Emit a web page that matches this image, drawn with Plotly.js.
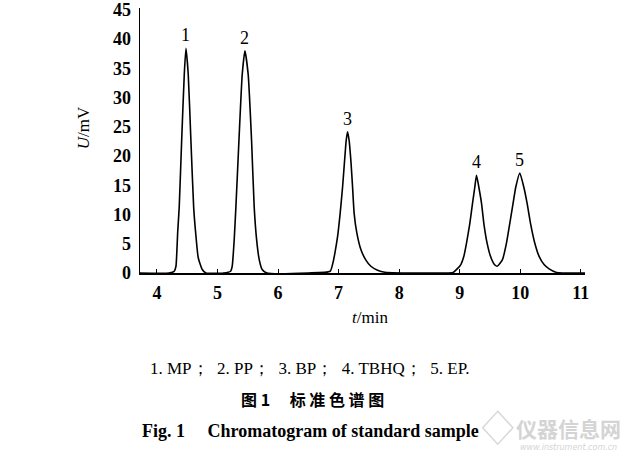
<!DOCTYPE html>
<html>
<head>
<meta charset="utf-8">
<script src="https://cdn.plot.ly/plotly-3.0.1.min.js"></script>
<style>html,body{margin:0;padding:0;background:#fff;}#chart{width:637px;height:471px;}</style>
</head>
<body>
<div id="chart"></div>
<script>
// retention time (min)
const timeMin = [3.72, 4.20,
  4.286, 4.314, 4.328, 4.342, 4.368, 4.408, 4.451, 4.479, 4.517, 4.561, 4.606, 4.639, 4.682, 4.748, 4.81,
  5.10,
  5.217, 5.243, 5.260, 5.276, 5.304, 5.354, 5.408, 5.453, 5.507, 5.563, 5.606, 5.646, 5.689, 5.738, 5.816,
  6.50,
  6.861, 6.906, 6.939, 6.983, 7.026, 7.066, 7.099, 7.125, 7.148, 7.175, 7.203, 7.231, 7.257, 7.302, 7.368,
  7.446, 7.533, 7.644, 7.764,
  8.50,
  8.892, 8.958, 9.019, 9.069, 9.113, 9.168, 9.212, 9.250, 9.278, 9.316, 9.361, 9.399, 9.453, 9.509, 9.564,
  9.618, 9.707, 9.773, 9.828, 9.882, 9.927, 9.993, 10.059, 10.114, 10.170, 10.241, 10.312, 10.394, 10.477,
  10.599, 11.07];
// detector signal (mV)
const signalMV = [0, 0,
  0.3, 1.15, 3.5, 6.9, 11.3, 22.6, 33.9, 38.4, 33.9, 22.6, 11.3, 6.9, 2.6, 0.6, 0,
  0,
  0.3, 1.15, 3.2, 5.7, 11.3, 22.6, 33.9, 38.0, 33.9, 22.6, 11.3, 5.7, 2.3, 0.6, 0,
  0,
  0.3, 1.7, 3.4, 6.2, 10.2, 14.7, 19.2, 22.6, 24.15, 22.6, 19.2, 14.7, 10.2, 6.8, 4.0,
  2.3, 1.15, 0.47, 0.14,
  0,
  0.1, 0.7, 1.44, 2.85, 5.1, 8.5, 11.9, 14.7, 16.7, 14.7, 11.9, 8.5, 5.1, 2.85, 1.6,
  1.15, 2.3, 5.1, 8.5, 11.9, 14.7, 17.1, 14.7, 11.9, 8.5, 5.1, 2.85, 1.44, 0.7,
  0.1, 0];

const peakLabels = ["1", "2", "3", "4", "5"];
const peakTimes = [4.479, 5.453, 7.148, 9.278, 9.993];
const peakHeights = [38.4, 38.0, 24.15, 16.7, 17.1];

const xTicks = [4, 5, 6, 7, 8, 9, 10, 11];
const yTicks = [0, 5, 10, 15, 20, 25, 30, 35, 40, 45];

const xTitle = "<i>t</i>/min";
const yTitle = "<i>U</i>/mV";
const legendLine = "1. MP；\u20022. PP；\u20023. BP；\u20024. TBHQ；\u20025. EP.";
const cnCaption = "图 1　 标 准 色 谱 图";
const enCaption = "Fig. 1　 Chromatogram of standard sample";
const watermark = "仪器信息网";
const watermarkUrl = "www.instrument.com.cn";

const serif = "Liberation Serif, Times New Roman, serif";
const cjk = "Noto Sans CJK SC, sans-serif";

function note(x, y, text, font, extra) {
  return Object.assign({xref: "paper", yref: "paper", x: x, y: y, text: text, showarrow: false,
    xanchor: "center", yanchor: "middle", font: font}, extra || {});
}

const annotations = peakLabels.map((lab, i) => ({
  x: peakTimes[i], y: peakHeights[i], xref: "x", yref: "y",
  text: lab, showarrow: false, yshift: 13, xanchor: "center", yanchor: "middle",
  font: {family: serif, size: 18, color: "#000"}
}));

annotations.push(
  note(0.517, -0.168, xTitle, {family: serif, size: 17, color: "#000"}),
  note(-0.128, 0.546, yTitle, {family: serif, size: 17, color: "#000"}, {textangle: -90}),
  note(0.382, -0.360, legendLine, {family: serif, size: 17, color: "#000"}),
  note(0.387, -0.477, "<b>" + cnCaption + "</b>", {family: cjk, size: 16, color: "#000"}),
  note(0.384, -0.597, "<b>" + enCaption + "</b>", {family: serif, size: 18, color: "#000"}),
  note(0.962, -0.584, "<b>" + watermark + "</b>", {family: cjk, size: 21, color: "#d4d4d4"}),
  note(0.962, -0.659, "<i>" + watermarkUrl + "</i>", {family: "DejaVu Sans, sans-serif", size: 8, color: "#d4d4d4"})
);

const trace = {
  x: timeMin, y: signalMV, type: "scatter", mode: "lines",
  line: {color: "#000", width: 1.6, shape: "spline", smoothing: 0.5},
  cliponaxis: false, hoverinfo: "skip"
};

const layout = {
  width: 637, height: 471,
  margin: {l: 140, r: 52, t: 8, b: 197.5},
  paper_bgcolor: "#fff", plot_bgcolor: "#fff",
  showlegend: false,
  xaxis: {
    range: [3.72, 11.07], tickvals: xTicks, ticktext: xTicks.map(String),
    showgrid: false, zeroline: false, showline: true, linecolor: "#000", linewidth: 1.5,
    ticks: "inside", ticklen: 4, tickcolor: "#000", tickwidth: 1, ticklabelstandoff: 3,
    tickfont: {family: serif, size: 18, color: "#000", weight: "bold"}
  },
  yaxis: {
    range: [0, 45.3], tickvals: yTicks, ticktext: yTicks.map(String),
    showgrid: false, zeroline: false, showline: true, linecolor: "#000", linewidth: 1.5,
    ticks: "", ticklabelstandoff: 4,
    tickfont: {family: serif, size: 18, color: "#000", weight: "bold"}
  },
  shapes: [{
    type: "path", xref: "paper", yref: "paper",
    path: "M 0.804 -0.522 L 0.838 -0.584 L 0.804 -0.646 L 0.770 -0.584 Z",
    line: {color: "#d8d8d8", width: 1.5}, fillcolor: "rgba(0,0,0,0)"
  }],
  annotations: annotations
};

Plotly.newPlot("chart", [trace], layout, {staticPlot: true, displayModeBar: false});
</script>
</body>
</html>
